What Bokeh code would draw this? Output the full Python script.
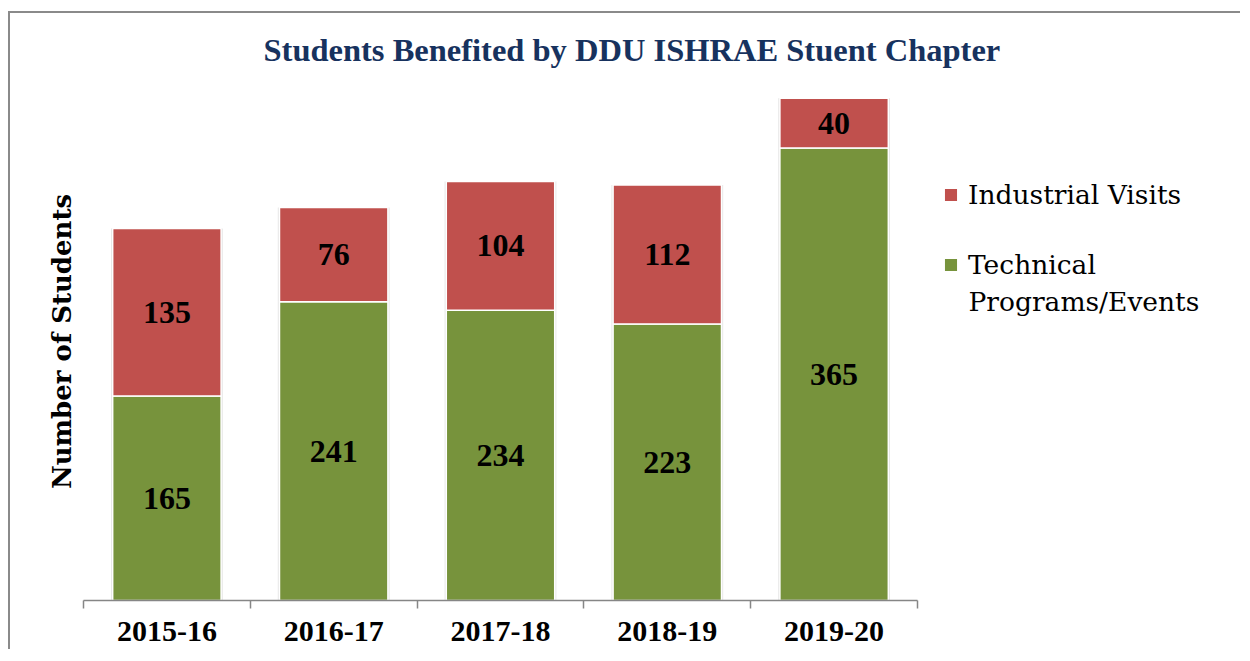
import numpy as np
from bokeh.plotting import figure
from bokeh.models import (ColumnDataSource, Range1d, FixedTicker, LinearAxis,
                          Legend, LegendItem, LabelSet, Label)
from bokeh.embed import file_html
from bokeh.resources import INLINE

# ---- data ----
years = ["2015-16", "2016-17", "2017-18", "2018-19", "2019-20"]
technical = [165, 241, 234, 223, 365]
industrial = [135, 76, 104, 112, 40]
series_names = ["Technical", "Industrial Visits"]
series_name_cont = "Programs/Events"   # second line of the green series' legend label
title_text = "Students Benefited by DDU ISHRAE Stuent Chapter"
y_title = "Number of Students"

GREEN = "#77933C"
RED = "#C0504D"
NAVY = "#17325E"
AXIS = "#868686"

n = len(years)
xc = np.arange(n) + 0.5
tech = np.array(technical, dtype=float)
ind = np.array(industrial, dtype=float)
src = ColumnDataSource(dict(
    x=xc, tech=tech, ind_bottom=tech, ind_top=tech + ind,
    tech_mid=tech / 2, ind_mid=tech + ind / 2,
    tech_lbl=[str(v) for v in technical], ind_lbl=[str(v) for v in industrial],
))

W, H = 1232, 638
LEFT, TOP, BOTTOM = 73, 69, 51
PLOT_W = 834                      # width used by the five categories
frame_w = W - LEFT
frame_h = H - TOP - BOTTOM
PX_PER_UNIT = 1.24

p = figure(width=W, height=H,
           x_range=Range1d(0, n * frame_w / PLOT_W),
           y_range=Range1d(0, frame_h / PX_PER_UNIT),
           x_axis_type=None, y_axis_type=None,
           output_backend="svg", toolbar_location=None,
           min_border_left=LEFT, min_border_right=0, min_border_top=TOP,
           min_border_bottom=BOTTOM)
p.outline_line_color = None
p.styles = {"border-top": "2px solid #8a8a8a", "border-left": "2px solid #8a8a8a",
            "margin-top": "11px", "margin-left": "8px"}

# title
p.title.text = title_text
p.title.align = "left"
p.title.offset = 180
p.title.text_font = "Liberation Serif"
p.title.text_font_style = "bold"
p.title.text_font_size = "32.5px"
p.title.text_color = NAVY
p.title.standoff = 30

# shadows
p.vbar(x="x", width=0.67, bottom=0, top="ind_top", source=src,
       fill_color="#c8c8c8", fill_alpha=0.45, line_color=None)

r_tech = p.vbar(x="x", width=0.65, bottom=0, top="tech", source=src,
                fill_color=GREEN, line_color="white", line_width=1.5)
r_ind = p.vbar(x="x", width=0.65, bottom="ind_bottom", top="ind_top", source=src,
               fill_color=RED, line_color="white", line_width=1.5)

for ycol, tcol in (("tech_mid", "tech_lbl"), ("ind_mid", "ind_lbl")):
    p.add_layout(LabelSet(x="x", y=ycol, text=tcol, source=src,
                          text_align="center", text_baseline="middle",
                          text_font="Liberation Serif", text_font_style="bold",
                          text_font_size="32px", text_color="black"))

# x axis with ticks at category boundaries
xaxis = LinearAxis(ticker=FixedTicker(ticks=list(xc), minor_ticks=list(range(n + 1))),
                   major_label_overrides={float(v): lab for v, lab in zip(xc, years)},
                   bounds=(0, n))
xaxis.axis_line_color = AXIS
xaxis.axis_line_width = 1.5
xaxis.major_tick_line_color = None
xaxis.minor_tick_line_color = AXIS
xaxis.minor_tick_line_width = 1.5
xaxis.minor_tick_out = 8
xaxis.minor_tick_in = 0
xaxis.major_label_standoff = 13
xaxis.major_label_text_font = "Liberation Serif"
xaxis.major_label_text_font_style = "bold"
xaxis.major_label_text_font_size = "30px"
xaxis.major_label_text_color = "black"
p.add_layout(xaxis, "below")

yaxis = LinearAxis(ticker=FixedTicker(ticks=[]), axis_label=y_title)
yaxis.axis_line_color = None
yaxis.major_tick_line_color = None
yaxis.minor_tick_line_color = None
yaxis.major_label_text_font_size = "0px"
yaxis.axis_label_standoff = 7
yaxis.axis_label_text_font = "DejaVu Serif"
yaxis.axis_label_text_font_style = "bold"
yaxis.axis_label_text_font_size = "26px"
yaxis.axis_label_text_color = "black"
p.add_layout(yaxis, "left")

legend = Legend(items=[LegendItem(label=series_names[1], renderers=[r_ind]),
                       LegendItem(label=series_names[0], renderers=[r_tech])],
                location=(859, 320))
legend.border_line_color = None
legend.background_fill_alpha = 0
legend.padding = 0
legend.margin = 0
legend.glyph_width = 17
legend.glyph_height = 17
legend.label_height = 32
legend.label_standoff = 9
legend.spacing = 38
legend.label_text_font = "DejaVu Serif"
legend.label_text_font_size = "26.5px"
legend.label_text_color = "black"
p.add_layout(legend)

p.add_layout(Label(x=885, y=299, x_units="screen", y_units="screen",
                   text=series_name_cont, text_baseline="middle", text_align="left",
                   text_font="DejaVu Serif", text_font_size="26.5px", text_color="black"))

open("out.html", "w").write(file_html(p, INLINE))
